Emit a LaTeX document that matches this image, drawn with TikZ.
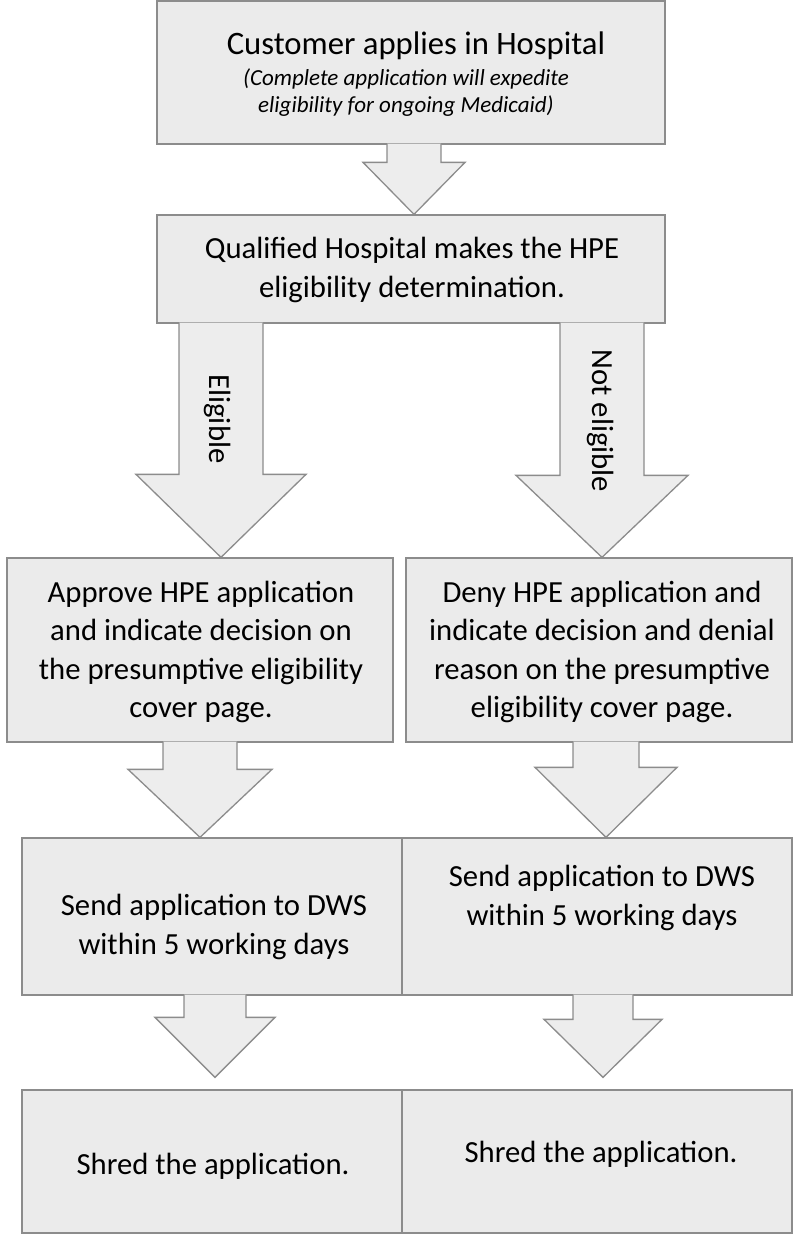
\documentclass[tikz,border=0pt]{standalone}
\usepackage{fontspec}
\setmainfont{Carlito}
\usetikzlibrary{calc}

\definecolor{boxfill}{gray}{0.92}
\definecolor{boxline}{gray}{0.55}
\definecolor{arrowfill}{gray}{0.93}
\definecolor{arrowline}{gray}{0.55}

\tikzset{
  box/.style={rectangle, draw=boxline, fill=boxfill, line width=1.3pt, inner sep=0pt},
  boxtext/.style={align=center, inner sep=0pt, font=\fontsize{30.7}{38.4}\selectfont},
  titletext/.style={inner sep=0pt, font=\fontsize{32.7}{39}\selectfont},
  notetext/.style={align=center, inner sep=0pt, font=\itshape\fontsize{23}{27}\selectfont},
  arrowbody/.style={fill=arrowfill},
  arrowedge/.style={draw=arrowline, line width=1.3pt, line join=miter},
  arrowlabel/.style={inner sep=0pt, rotate=-90, font=\fontsize{30.7}{36}\selectfont}
}

% Block arrow: #1 source point (top of shaft), #2 tip point,
% #3 shaft half-width, #4 head half-width, #5 head length
\newcommand\blockarrow[5]{%
  \fill[arrowbody] let \p1=#1, \p2=#2 in
    (\x2-#3,\y1+1pt) -- (\x2-#3,\y2+#5) -- (\x2-#4,\y2+#5) -- (\x2,\y2)
    -- (\x2+#4,\y2+#5) -- (\x2+#3,\y2+#5) -- (\x2+#3,\y1+1pt) -- cycle;
  \draw[arrowedge] let \p1=#1, \p2=#2 in
    (\x2-#3,\y1+1pt) -- (\x2-#3,\y2+#5) -- (\x2-#4,\y2+#5) -- (\x2,\y2)
    -- (\x2+#4,\y2+#5) -- (\x2+#3,\y2+#5) -- (\x2+#3,\y1+1pt);
}

\begin{document}
\begin{tikzpicture}[x=1pt,y=-1pt]
  \useasboundingbox[fill=white] (0,0) rectangle (793,1236);

  % boxes
  \node[box, minimum width=508pt, minimum height=143pt] (b1) at (411,72.5) {};
  \node[box, minimum width=508pt, minimum height=108pt] (b2) at (411,269) {};
  \node[box, minimum width=386pt, minimum height=184pt] (b3l) at (200,650) {};
  \node[box, minimum width=386pt, minimum height=184pt] (b3r) at (599,650) {};
  \node[box, minimum width=380pt, minimum height=157pt] (b4l) at (212,916.5) {};
  \node[box, minimum width=390pt, minimum height=157pt] (b4r) at (597,916.5) {};
  \node[box, minimum width=380pt, minimum height=143pt] (b5l) at (212,1161.5) {};
  \node[box, minimum width=390pt, minimum height=143pt] (b5r) at (597,1161.5) {};

  % box texts
  \node[titletext, anchor=base] (t1) at (416,55) {Customer applies in Hospital};
  \node[notetext] (t1n) at (406,93) {(Complete application will expedite\\eligibility for ongoing Medicaid)};
  \node[boxtext] (t2) at (412,270) {Qualified Hospital makes the HPE\\eligibility determination.};
  \node[boxtext] (t3l) at (201,652) {Approve HPE application\\and indicate decision on\\the presumptive eligibility\\cover page.};
  \node[boxtext] (t3r) at (602,652) {Deny HPE application and\\indicate decision and denial\\reason on the presumptive\\eligibility cover page.};
  \node[boxtext] (t4l) at (214,927) {Send application to DWS\\within 5 working days};
  \node[boxtext] (t4r) at (602,898) {Send application to DWS\\within 5 working days};
  \node[boxtext] (t5l) at (213,1166) {Shred the application.};
  \node[boxtext] (t5r) at (601,1154) {Shred the application.};

  % block arrows between the boxes
  \blockarrow{(b1.south)}{([xshift=3pt]b2.north)}{27pt}{51pt}{52pt}
  \blockarrow{(b2.south)}{([xshift=21pt]b3l.north)}{42pt}{85pt}{83pt}
  \blockarrow{(b2.south)}{([xshift=3pt]b3r.north)}{42pt}{86pt}{82pt}
  \blockarrow{(b3l.south)}{([xshift=-12pt]b4l.north)}{37pt}{72pt}{68pt}
  \blockarrow{(b3r.south)}{([xshift=9pt]b4r.north)}{33pt}{71pt}{70pt}
  \blockarrow{(b4l.south)}{([xshift=3pt,yshift=12pt]b5l.north)}{31pt}{60pt}{60pt}
  \blockarrow{(b4r.south)}{([xshift=6pt,yshift=12pt]b5r.north)}{30pt}{59pt}{58pt}

  % branch labels on the arrows
  \node[arrowlabel] (le) at (218,419) {Eligible};
  \node[arrowlabel] (ln) at (601,421) {Not eligible};
\end{tikzpicture}
\end{document}
